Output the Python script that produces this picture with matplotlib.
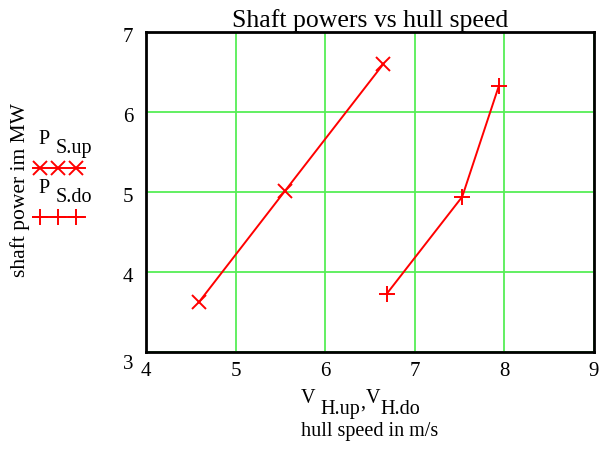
import numpy as np
import matplotlib
matplotlib.use("Agg")
import matplotlib.pyplot as plt
from matplotlib.lines import Line2D
from matplotlib.transforms import ScaledTranslation

plt.rcParams['font.family'] = ['Liberation Serif', 'DejaVu Serif']

# data
v_up = [4.59, 5.55, 6.65]
p_up = [3.62, 5.01, 6.60]
v_do = [6.69, 7.53, 7.94]
p_do = [3.73, 4.94, 6.33]
xticks = [4, 5, 6, 7, 8, 9]
yticks = [3, 4, 5, 6, 7]

fig = plt.figure(figsize=(6.03, 4.5), dpi=100)
ax = fig.add_axes([0.242, 0.218, 0.743, 0.711])

ax.plot(v_up, p_up, color='red', lw=1.4, marker='x', ms=10, mew=1.4)
ax.plot(v_do, p_do, color='red', lw=1.4, marker='+', ms=12, mew=1.4)

ax.set_xlim(4, 9)
ax.set_ylim(3, 7)
ax.set_xticks(xticks)
ax.set_yticks(yticks)
ax.tick_params(length=0, labelsize=15)
ax.tick_params(axis='x', pad=7)
ax.tick_params(axis='y', pad=9)
ax.grid(True, color='#55ee55', lw=1.3)
for s in ax.spines.values():
    s.set_linewidth(2)
ax.set_title('Shaft powers vs hull speed', fontsize=18.5, pad=3)

# y tick labels sit a little below their grid lines, the bottom one more so
for lab, t in zip(ax.get_yticklabels(), yticks):
    dy = -10 if t == yticks[0] else -3
    lab.set_transform(lab.get_transform() + ScaledTranslation(0, dy / 100, fig.dpi_scale_trans))

# y label
fig.text(0.033, 0.578, 'shaft power im MW', rotation=90, fontsize=15.5,
         ha='center', va='center')

# x labels
fs = 14.5
fig.text(301 / 603, 0.104, 'V', fontsize=fs, ha='left', va='baseline')
fig.text(320 / 603, 0.080, 'H.up', fontsize=fs, ha='left', va='baseline')
fig.text(360 / 603, 0.094, ',', fontsize=fs, ha='left', va='baseline')
fig.text(366 / 603, 0.104, 'V', fontsize=fs, ha='left', va='baseline')
fig.text(380 / 603, 0.080, 'H.do', fontsize=fs, ha='left', va='baseline')
fig.text(370 / 603, 0.031, 'hull speed in m/s', fontsize=fs, ha='center', va='baseline')

# legend drawn by hand to the left of the axes
fig.text(38 / 603, 0.689, 'P', fontsize=fs, ha='left', va='center')
fig.text(56 / 603, 0.669, 'S.up', fontsize=fs, ha='left', va='center')
fig.add_artist(Line2D([33 / 603, 85 / 603], [0.627, 0.627], transform=fig.transFigure,
                      color='red', lw=1.4))
fig.add_artist(Line2D([40 / 603, 58 / 603, 76 / 603], [0.627] * 3, transform=fig.transFigure,
                      color='red', lw=0, marker='x', ms=10, mew=1.4))
fig.text(38 / 603, 0.582, 'P', fontsize=fs, ha='left', va='center')
fig.text(56 / 603, 0.562, 'S.do', fontsize=fs, ha='left', va='center')
fig.add_artist(Line2D([33 / 603, 85 / 603], [0.518, 0.518], transform=fig.transFigure,
                      color='red', lw=1.4))
fig.add_artist(Line2D([40 / 603, 58 / 603, 76 / 603], [0.518] * 3, transform=fig.transFigure,
                      color='red', lw=0, marker='+', ms=12, mew=1.4))

fig.savefig('out.png', dpi=100)
